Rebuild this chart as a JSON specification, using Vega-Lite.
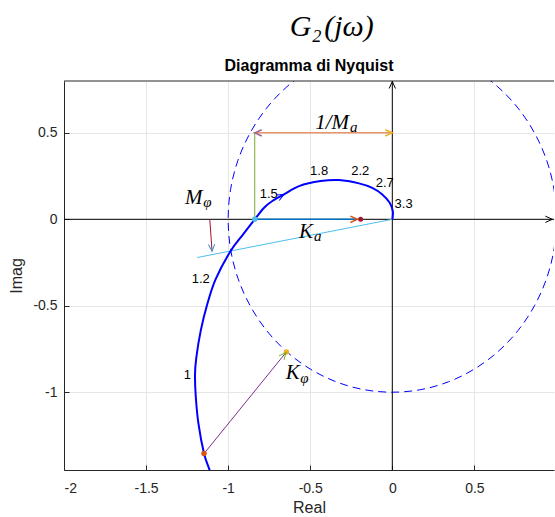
{
  "$schema": "https://vega.github.io/schema/vega-lite/v6.json",
  "background": "white",
  "padding": {"left": 8, "top": 11, "right": 0, "bottom": 0},
  "title": {"text": "G₂\u200a(jω)", "anchor": "middle", "font": "Liberation Serif", "fontStyle": "italic", "fontWeight": "normal", "fontSize": 30, "color": "#000000", "dx": 50, "offset": 16},
  "vconcat": [
    {
      "width": 490,
      "height": 389,
      "title": {"text": "Diagramma di Nyquist", "font": "Liberation Sans", "fontWeight": "bold", "fontSize": 16, "color": "#000000", "offset": 6},
      "layer": [
        {
          "data": {"values": [
            {"i": 0, "re": 1, "im": 0}, {"i": 1, "re": 0.985, "im": 0.174}, {"i": 2, "re": 0.94, "im": 0.342}, {"i": 3, "re": 0.866, "im": 0.5},
            {"i": 4, "re": 0.766, "im": 0.643}, {"i": 5, "re": 0.643, "im": 0.766}, {"i": 6, "re": 0.5, "im": 0.866}, {"i": 7, "re": 0.342, "im": 0.94},
            {"i": 8, "re": 0.174, "im": 0.985}, {"i": 9, "re": 0, "im": 1}, {"i": 10, "re": -0.174, "im": 0.985}, {"i": 11, "re": -0.342, "im": 0.94},
            {"i": 12, "re": -0.5, "im": 0.866}, {"i": 13, "re": -0.643, "im": 0.766}, {"i": 14, "re": -0.766, "im": 0.643}, {"i": 15, "re": -0.866, "im": 0.5},
            {"i": 16, "re": -0.94, "im": 0.342}, {"i": 17, "re": -0.985, "im": 0.174}, {"i": 18, "re": -1, "im": 0}, {"i": 19, "re": -0.985, "im": -0.174},
            {"i": 20, "re": -0.94, "im": -0.342}, {"i": 21, "re": -0.866, "im": -0.5}, {"i": 22, "re": -0.766, "im": -0.643}, {"i": 23, "re": -0.643, "im": -0.766},
            {"i": 24, "re": -0.5, "im": -0.866}, {"i": 25, "re": -0.342, "im": -0.94}, {"i": 26, "re": -0.174, "im": -0.985}, {"i": 27, "re": 0, "im": -1},
            {"i": 28, "re": 0.174, "im": -0.985}, {"i": 29, "re": 0.342, "im": -0.94}, {"i": 30, "re": 0.5, "im": -0.866}, {"i": 31, "re": 0.643, "im": -0.766},
            {"i": 32, "re": 0.766, "im": -0.643}, {"i": 33, "re": 0.866, "im": -0.5}, {"i": 34, "re": 0.94, "im": -0.342}, {"i": 35, "re": 0.985, "im": -0.174},
            {"i": 36, "re": 1, "im": 0}
          ]},
          "mark": {"type": "line", "color": "#0000ff", "strokeWidth": 1, "strokeDash": [8, 5], "clip": true, "interpolate": "cardinal"},
          "encoding": {
            "x": {"field": "re", "type": "quantitative", "scale": {"domain": [-2, 0.985], "nice": false, "zero": false},
                  "axis": {"title": "Real", "values": [-2, -1.5, -1, -0.5, 0, 0.5], "labelExpr": "datum.value + ''", "grid": true, "labelPadding": 16, "titlePadding": 4}},
            "y": {"field": "im", "type": "quantitative", "scale": {"domain": [-1.45, 0.8], "nice": false, "zero": false},
                  "axis": {"title": "Imag", "values": [-1, -0.5, 0, 0.5], "labelExpr": "datum.value + ''", "grid": true, "labelPadding": 12, "titlePadding": 8}},
            "order": {"field": "i", "type": "quantitative"}
          }
        },
        {
          "data": {"values": [{"re": -2, "im": 0.8, "re2": 0.985, "im2": 0.8}]},
          "mark": {"type": "rule", "color": "#262626", "strokeWidth": 1},
          "encoding": {"x": {"field": "re", "type": "quantitative"}, "y": {"field": "im", "type": "quantitative"}, "x2": {"field": "re2"}, "y2": {"field": "im2"}}
        },
        {
          "data": {"values": [{"re": -2, "im": 0, "re2": 0.985, "im2": 0}, {"re": 0, "im": -1.45, "re2": 0, "im2": 0.8}]},
          "mark": {"type": "rule", "color": "#000000", "strokeWidth": 1, "clip": true},
          "encoding": {"x": {"field": "re", "type": "quantitative"}, "y": {"field": "im", "type": "quantitative"}, "x2": {"field": "re2"}, "y2": {"field": "im2"}}
        },
        {
          "data": {"values": [{"re": -0.838, "im": 0, "re2": -0.838, "im2": 0.5}]},
          "mark": {"type": "rule", "color": "#77AC30", "strokeWidth": 1},
          "encoding": {"x": {"field": "re", "type": "quantitative"}, "y": {"field": "im", "type": "quantitative"}, "x2": {"field": "re2"}, "y2": {"field": "im2"}}
        },
        {
          "data": {"values": [{"re": -0.838, "im": 0.5, "re2": 0, "im2": 0.5}]},
          "mark": {"type": "rule", "color": "#E8956B", "strokeWidth": 1.5},
          "encoding": {"x": {"field": "re", "type": "quantitative"}, "y": {"field": "im", "type": "quantitative"}, "x2": {"field": "re2"}, "y2": {"field": "im2"}}
        },
        {
          "data": {"values": [{"re": -0.838, "im": 0, "re2": -0.215, "im2": 0}]},
          "mark": {"type": "rule", "color": "#0072BD", "strokeWidth": 1.5},
          "encoding": {"x": {"field": "re", "type": "quantitative"}, "y": {"field": "im", "type": "quantitative"}, "x2": {"field": "re2"}, "y2": {"field": "im2"}}
        },
        {
          "data": {"values": [{"re": 0, "im": 0, "re2": -1.188, "im2": -0.221}]},
          "mark": {"type": "rule", "color": "#4DBEEE", "strokeWidth": 1},
          "encoding": {"x": {"field": "re", "type": "quantitative"}, "y": {"field": "im", "type": "quantitative"}, "x2": {"field": "re2"}, "y2": {"field": "im2"}}
        },
        {
          "data": {"values": [{"re": -1.112, "im": 0, "re2": -1.098, "im2": -0.185}]},
          "mark": {"type": "rule", "color": "#A2142F", "strokeWidth": 1},
          "encoding": {"x": {"field": "re", "type": "quantitative"}, "y": {"field": "im", "type": "quantitative"}, "x2": {"field": "re2"}, "y2": {"field": "im2"}}
        },
        {
          "data": {"values": [{"re": -1.147, "im": -1.355, "re2": -0.645, "im2": -0.767}]},
          "mark": {"type": "rule", "color": "#7E2F8E", "strokeWidth": 1},
          "encoding": {"x": {"field": "re", "type": "quantitative"}, "y": {"field": "im", "type": "quantitative"}, "x2": {"field": "re2"}, "y2": {"field": "im2"}}
        },
        {
          "data": {"values": [
            {"i": 0, "re": -1.105, "im": -1.48}, {"i": 1, "re": -1.116, "im": -1.442}, {"i": 2, "re": -1.147, "im": -1.355}, {"i": 3, "re": -1.181, "im": -1.182},
            {"i": 4, "re": -1.197, "im": -1.029}, {"i": 5, "re": -1.202, "im": -0.9}, {"i": 6, "re": -1.194, "im": -0.8}, {"i": 7, "re": -1.167, "im": -0.644},
            {"i": 8, "re": -1.127, "im": -0.49}, {"i": 9, "re": -1.076, "im": -0.346}, {"i": 10, "re": -0.985, "im": -0.183}, {"i": 11, "re": -0.91, "im": -0.088},
            {"i": 12, "re": -0.838, "im": 0}, {"i": 13, "re": -0.781, "im": 0.067}, {"i": 14, "re": -0.731, "im": 0.106}, {"i": 15, "re": -0.66, "im": 0.144},
            {"i": 16, "re": -0.568, "im": 0.192}, {"i": 17, "re": -0.436, "im": 0.221}, {"i": 18, "re": -0.325, "im": 0.227}, {"i": 19, "re": -0.203, "im": 0.208},
            {"i": 20, "re": -0.122, "im": 0.182}, {"i": 21, "re": -0.061, "im": 0.144}, {"i": 22, "re": -0.016, "im": 0.096}, {"i": 23, "re": 0.003, "im": 0.048},
            {"i": 24, "re": 0.002, "im": 0.012}, {"i": 25, "re": 0, "im": 0}
          ]},
          "mark": {"type": "line", "color": "#0000ff", "strokeWidth": 2, "clip": true, "interpolate": "cardinal"},
          "encoding": {"x": {"field": "re", "type": "quantitative"}, "y": {"field": "im", "type": "quantitative"}, "order": {"field": "i", "type": "quantitative"}}
        },
        {
          "data": {"values": [{"re": -0.838, "im": 0}]},
          "mark": {"type": "point", "filled": true, "color": "#4DBEEE", "size": 30, "opacity": 1},
          "encoding": {"x": {"field": "re", "type": "quantitative"}, "y": {"field": "im", "type": "quantitative"}}
        },
        {
          "data": {"values": [{"re": -0.193, "im": 0}]},
          "mark": {"type": "point", "filled": true, "color": "#A2142F", "size": 25, "opacity": 1},
          "encoding": {"x": {"field": "re", "type": "quantitative"}, "y": {"field": "im", "type": "quantitative"}}
        },
        {
          "data": {"values": [{"re": -1.147, "im": -1.355}]},
          "mark": {"type": "point", "filled": true, "color": "#D95319", "size": 30, "opacity": 1},
          "encoding": {"x": {"field": "re", "type": "quantitative"}, "y": {"field": "im", "type": "quantitative"}}
        },
        {
          "data": {"values": [{"re": -0.645, "im": -0.767}]},
          "mark": {"type": "point", "filled": true, "color": "#EDB120", "size": 30, "opacity": 1},
          "encoding": {"x": {"field": "re", "type": "quantitative"}, "y": {"field": "im", "type": "quantitative"}}
        },
        {
          "data": {"values": [{"re": 0.975, "im": 0}]},
          "mark": {"type": "point", "shape": "M -2 -0.9 L 0 0 L -2 0.9", "filled": false, "color": "#000000", "strokeWidth": 1, "size": 49, "angle": 0, "opacity": 1},
          "encoding": {"x": {"field": "re", "type": "quantitative"}, "y": {"field": "im", "type": "quantitative"}}
        },
        {
          "data": {"values": [{"re": 0, "im": 0.797}]},
          "mark": {"type": "point", "shape": "M -2 -0.9 L 0 0 L -2 0.9", "filled": false, "color": "#000000", "strokeWidth": 1, "size": 49, "angle": 270, "opacity": 1},
          "encoding": {"x": {"field": "re", "type": "quantitative"}, "y": {"field": "im", "type": "quantitative"}}
        },
        {
          "data": {"values": [{"re": 0, "im": 0.5}]},
          "mark": {"type": "point", "shape": "M -2 -0.9 L 0 0 L -2 0.9", "filled": false, "color": "#EDB120", "strokeWidth": 1.5, "size": 49, "angle": 0, "opacity": 1},
          "encoding": {"x": {"field": "re", "type": "quantitative"}, "y": {"field": "im", "type": "quantitative"}}
        },
        {
          "data": {"values": [{"re": -0.838, "im": 0.5}]},
          "mark": {"type": "point", "shape": "M -2 -0.9 L 0 0 L -2 0.9", "filled": false, "color": "#A0608F", "strokeWidth": 1.5, "size": 49, "angle": 180, "opacity": 1},
          "encoding": {"x": {"field": "re", "type": "quantitative"}, "y": {"field": "im", "type": "quantitative"}}
        },
        {
          "data": {"values": [{"re": -0.213, "im": 0}]},
          "mark": {"type": "point", "shape": "M -2 -0.9 L 0 0 L -2 0.9", "filled": false, "color": "#D95319", "strokeWidth": 1.5, "size": 49, "angle": 0, "opacity": 1},
          "encoding": {"x": {"field": "re", "type": "quantitative"}, "y": {"field": "im", "type": "quantitative"}}
        },
        {
          "data": {"values": [{"re": -1.098, "im": -0.185}]},
          "mark": {"type": "point", "shape": "M -2 -0.9 L 0 0 L -2 0.9", "filled": false, "color": "#3F8FC5", "strokeWidth": 1, "size": 49, "angle": 86, "opacity": 1},
          "encoding": {"x": {"field": "re", "type": "quantitative"}, "y": {"field": "im", "type": "quantitative"}}
        },
        {
          "data": {"values": [{"re": -0.648, "im": -0.77}]},
          "mark": {"type": "point", "shape": "M -2 -0.9 L 0 0 L -2 0.9", "filled": false, "color": "#77AC30", "strokeWidth": 1, "size": 49, "angle": -51, "opacity": 1},
          "encoding": {"x": {"field": "re", "type": "quantitative"}, "y": {"field": "im", "type": "quantitative"}}
        },
        {
          "data": {"values": [{"re": -0.66, "im": 0.144}]},
          "mark": {"type": "point", "shape": "M -2 -0.9 L 0 0 L -2 0.9", "filled": false, "color": "#0000ff", "strokeWidth": 1, "size": 49, "angle": -28, "opacity": 1},
          "encoding": {"x": {"field": "re", "type": "quantitative"}, "y": {"field": "im", "type": "quantitative"}}
        },
        {
          "data": {"values": [{"t": "1", "re": -1.227, "im": -0.9}, {"t": "1.2", "re": -1.112, "im": -0.346}]},
          "mark": {"type": "text", "font": "Liberation Sans", "fontSize": 13, "color": "#000000", "align": "right", "baseline": "middle"},
          "encoding": {"x": {"field": "re", "type": "quantitative"}, "y": {"field": "im", "type": "quantitative"}, "text": {"field": "t"}}
        },
        {
          "data": {"values": [{"t": "1.5", "re": -0.808, "im": 0.148}, {"t": "3.3", "re": 0.014, "im": 0.09}]},
          "mark": {"type": "text", "font": "Liberation Sans", "fontSize": 13, "color": "#000000", "align": "left", "baseline": "middle"},
          "encoding": {"x": {"field": "re", "type": "quantitative"}, "y": {"field": "im", "type": "quantitative"}, "text": {"field": "t"}}
        },
        {
          "data": {"values": [{"t": "1.8", "re": -0.446, "im": 0.279}, {"t": "2.2", "re": -0.195, "im": 0.279}, {"t": "2.7", "re": -0.046, "im": 0.211}]},
          "mark": {"type": "text", "font": "Liberation Sans", "fontSize": 13, "color": "#000000", "align": "center", "baseline": "middle"},
          "encoding": {"x": {"field": "re", "type": "quantitative"}, "y": {"field": "im", "type": "quantitative"}, "text": {"field": "t"}}
        },
        {
          "data": {"values": [{"t": "1/M", "re": -0.264, "im": 0.521}, {"t": "M", "re": -1.156, "im": 0.0865}, {"t": "K", "re": -0.483, "im": -0.106}, {"t": "K", "re": -0.564, "im": -0.923}]},
          "mark": {"type": "text", "font": "Liberation Serif", "fontStyle": "italic", "fontSize": 21, "color": "#000000", "align": "right", "baseline": "alphabetic"},
          "encoding": {"x": {"field": "re", "type": "quantitative"}, "y": {"field": "im", "type": "quantitative"}, "text": {"field": "t"}}
        },
        {
          "data": {"values": [{"t": "a", "re": -0.258, "im": 0.503}, {"t": "φ", "re": -1.152, "im": 0.072}, {"t": "a", "re": -0.477, "im": -0.125}, {"t": "φ", "re": -0.561, "im": -0.945}]},
          "mark": {"type": "text", "font": "Liberation Serif", "fontStyle": "italic", "fontSize": 15, "color": "#000000", "align": "left", "baseline": "alphabetic"},
          "encoding": {"x": {"field": "re", "type": "quantitative"}, "y": {"field": "im", "type": "quantitative"}, "text": {"field": "t"}}
        }
      ]
    }
  ],
  "config": {
    "view": {"stroke": null},
    "axis": {
      "labelFont": "Liberation Sans", "labelFontSize": 14, "labelColor": "#262626",
      "titleFont": "Liberation Sans", "titleFontSize": 16, "titleFontWeight": "normal", "titleColor": "#262626",
      "gridColor": "#e6e6e6", "gridOpacity": 1, "gridWidth": 1,
      "domainColor": "#262626", "domainWidth": 1,
      "tickColor": "#262626", "tickSize": -5
    }
  }
}
